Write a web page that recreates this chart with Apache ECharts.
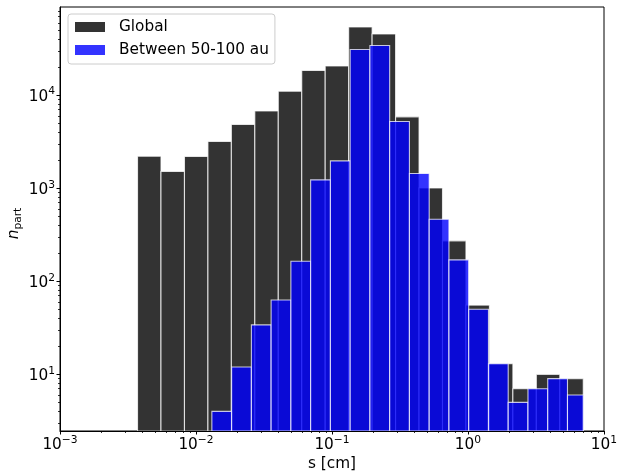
<!DOCTYPE html>
<html><head><meta charset="utf-8">
<script src="https://cdn.jsdelivr.net/npm/echarts@6/dist/echarts.min.js"></script>
<style>html,body{margin:0;padding:0;background:#fff}#c{width:617px;height:476px}</style>
</head><body><div id="c"></div>
<script>
// Bin edges (cm) and counts
const globalEdges = [0.003716, 0.005528, 0.008226, 0.01224, 0.01820, 0.02707, 0.04027, 0.05992, 0.08913, 0.1326,
  0.1972, 0.2934, 0.4365, 0.6494, 0.9658, 1.437, 2.138, 3.180, 4.731, 7.037];
const globalCounts = [2213, 1514, 2196, 3186, 4842, 6776, 11050, 18400, 20650, 54200,
  45500, 5850, 1009, 272, 55.5, 13, 7, 10, 9];
const blueEdges = [0.01308, 0.01828, 0.02554, 0.03567, 0.04985, 0.06965, 0.09732, 0.1360, 0.1900, 0.2655,
  0.3709, 0.5184, 0.7242, 1.012, 1.414, 1.975, 2.760, 3.857, 5.389, 7.037];
const blueCounts = [4, 12, 34, 63, 164, 1231, 1968, 30980, 34200, 5218,
  1442, 465, 170, 50, 13, 5, 7, 9, 6];
const seriesNames = ['Global', 'Between 50-100 au'];
const xTickValues = [0.001, 0.01, 0.1, 1, 10];
const yTickValues = [10, 100, 1000, 10000];
const xRange = [0.001, 10];
const yRange = [2.46, 88700];

const FONT = 'DejaVu Sans';
const FS = 15.3, FS_SMALL = 10.7;
function minorTicks(lo, hi) {
  const out = [];
  for (let e = Math.floor(Math.log10(lo)); e <= Math.ceil(Math.log10(hi)); e++) {
    for (let m = 2; m <= 9; m++) {
      const v = m * Math.pow(10, e);
      if (v > lo && v < hi) out.push(v);
    }
  }
  return out;
}
function powLabel(v) {
  const e = Math.round(Math.log10(v));
  return '{b|10}{s|' + (e < 0 ? '\u2212' + (-e) : e) + '}';
}
const richPow = {
  b: {fontSize: FS, fontFamily: FONT, color: '#000', lineHeight: 18, verticalAlign: 'bottom'},
  s: {fontSize: FS_SMALL, fontFamily: FONT, color: '#000', lineHeight: 12, verticalAlign: 'top'}
};
function bars(edges, counts) { return counts.map((c, i) => [edges[i], edges[i + 1], c]); }
function makeRender(fill, stroke) {
  return function (params, api) {
    const p0 = api.coord([api.value(0), api.value(2)]);
    const p1 = api.coord([api.value(1), yRange[0]]);
    return {type: 'rect', shape: {x: p0[0], y: p0[1], width: p1[0] - p0[0], height: p1[1] - p0[1]},
      style: {fill: fill, stroke: stroke, lineWidth: 1.1}};
  };
}
const darkFill = 'rgba(0,0,0,0.8)', blueFill = 'rgba(0,0,255,0.8)', edge = 'rgba(255,255,255,0.75)';

const chart = echarts.init(document.getElementById('c'), null, {renderer: 'canvas'});
chart.setOption({
  animation: false,
  backgroundColor: '#fff',
  grid: {left: 60, right: 13, top: 7, bottom: 45, show: true, borderColor: '#000', borderWidth: 1,
    backgroundColor: 'transparent', containLabel: false, outerBoundsMode: 'none'},
  legend: {
    orient: 'vertical', left: 68, top: 14, padding: [5, 6, 6, 7],
    backgroundColor: 'rgba(255,255,255,0.8)', borderColor: '#ccc', borderWidth: 1, borderRadius: 3,
    itemWidth: 30, itemHeight: 10, itemGap: 7, icon: 'rect', selectedMode: false,
    textStyle: {fontSize: FS, lineHeight: 16, fontFamily: FONT, color: '#000', padding: [0, 0, 0, 9]},
    data: [
      {name: seriesNames[0], itemStyle: {color: darkFill, borderWidth: 0}},
      {name: seriesNames[1], itemStyle: {color: blueFill, borderWidth: 0}}
    ]
  },
  xAxis: [{
    type: 'log', logBase: 10, min: xRange[0], max: xRange[1], position: 'bottom',
    axisLine: {show: true, onZero: false, lineStyle: {color: '#000', width: 1}},
    axisTick: {show: true, length: 3.5, lineStyle: {color: '#000', width: 1}, customValues: xTickValues},
    axisLabel: {customValues: xTickValues, formatter: powLabel, margin: 4, rich: richPow, showMinLabel: true, showMaxLabel: true, hideOverlap: false},
    splitLine: {show: false},
    name: 's [cm]', nameLocation: 'middle', nameGap: 26, nameMoveOverlap: false,
    nameTextStyle: {fontSize: FS, fontFamily: FONT, color: '#000'}
  }, {
    type: 'log', logBase: 10, min: xRange[0], max: xRange[1], position: 'bottom', offset: 0,
    axisLine: {show: false},
    axisTick: {show: true, length: 2, lineStyle: {color: '#000', width: 0.8}, customValues: minorTicks(xRange[0], xRange[1])},
    axisLabel: {show: false}, splitLine: {show: false}
  }],
  yAxis: [{
    type: 'log', logBase: 10, min: yRange[0], max: yRange[1], position: 'left',
    axisLine: {show: true, onZero: false, lineStyle: {color: '#000', width: 1}},
    axisTick: {show: true, length: 3.5, lineStyle: {color: '#000', width: 1}, customValues: yTickValues},
    axisLabel: {customValues: yTickValues, formatter: powLabel, margin: 5, rich: richPow},
    splitLine: {show: false},
    name: '{i|n}{s|part}', nameLocation: 'middle', nameGap: 36, nameMoveOverlap: false,
    nameTextStyle: {padding: [0, 9, 0, 0], rich: {
      i: {fontSize: FS, fontFamily: FONT, fontStyle: 'italic', color: '#000', lineHeight: 17, verticalAlign: 'top'},
      s: {fontSize: FS_SMALL, fontFamily: FONT, color: '#000', lineHeight: 11, verticalAlign: 'bottom'}
    }}
  }, {
    type: 'log', logBase: 10, min: yRange[0], max: yRange[1], position: 'left', offset: 0,
    axisLine: {show: false},
    axisTick: {show: true, length: 2, lineStyle: {color: '#000', width: 0.8}, customValues: minorTicks(yRange[0], yRange[1])},
    axisLabel: {show: false}, splitLine: {show: false}
  }],
  series: [{
    name: seriesNames[0], type: 'custom', xAxisIndex: 0, yAxisIndex: 0,
    itemStyle: {color: darkFill},
    encode: {x: [0, 1], y: 2},
    renderItem: makeRender(darkFill, edge),
    data: bars(globalEdges, globalCounts), clip: true, z: 2
  }, {
    name: seriesNames[1], type: 'custom', xAxisIndex: 0, yAxisIndex: 0,
    itemStyle: {color: blueFill},
    encode: {x: [0, 1], y: 2},
    renderItem: makeRender(blueFill, edge),
    data: bars(blueEdges, blueCounts), clip: true, z: 3
  }]
});
</script></body></html>
